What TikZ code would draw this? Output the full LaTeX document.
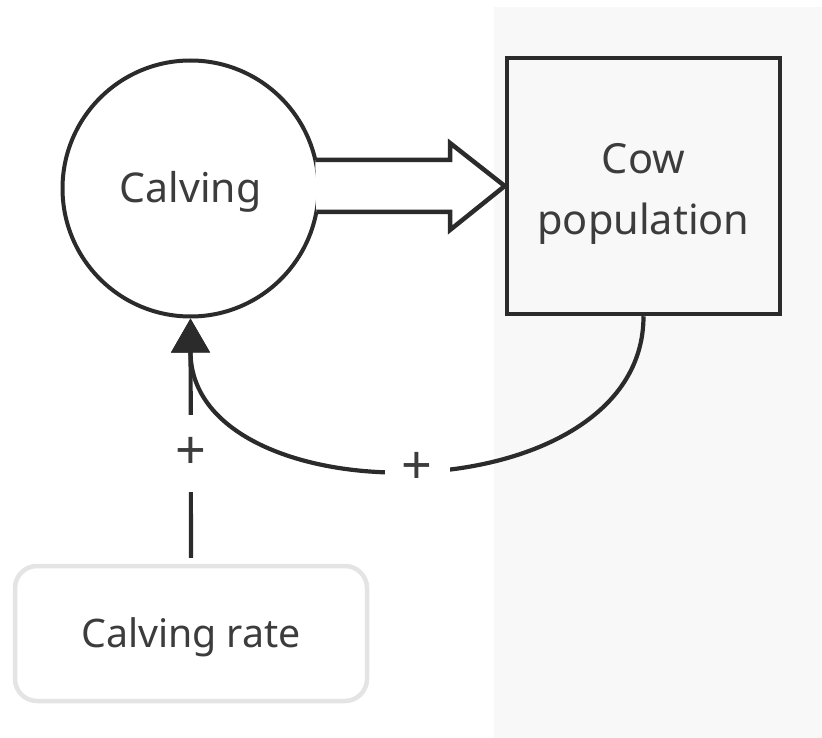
\documentclass[tikz,border=0pt]{standalone}
\usepackage{fontspec}
\setmainfont{Noto Sans}
\usetikzlibrary{arrows.meta,calc}
\definecolor{ink}{HTML}{2B2B2B}
\definecolor{txt}{HTML}{3C3C3C}
\definecolor{panel}{HTML}{F8F8F8}
\definecolor{softedge}{HTML}{E4E4E4}
\tikzset{
  label text/.style={text=txt, text height=28.5pt, text depth=0pt},
  stock/.style={draw=ink, line width=4.5pt, fill=panel, minimum width=273pt,
    minimum height=256pt, inner sep=0pt, align=center, label text,
    font=\fontsize{41.5}{62}\selectfont, text height=98pt},
  flowvalve/.style={circle, draw=ink, line width=4pt, fill=white,
    minimum size=256pt, inner sep=0pt, label text, font=\fontsize{41}{49}\selectfont},
  param/.style={draw=softedge, line width=4.5pt, rounded corners=22pt, fill=white,
    minimum width=352pt, minimum height=135pt, inner sep=0pt, label text,
    font=\fontsize{39.3}{47}\selectfont},
  flowpipe/.style={draw=ink, line width=4.5pt, fill=white, line join=miter},
  link/.style={draw=ink, line width=4.2pt, -{Triangle[width=38pt,length=34pt]}},
  polarity/.style={fill=white, inner sep=0pt, text=txt,
    font=\fontsize{54}{54}\selectfont},
}
\begin{document}
\begin{tikzpicture}[x=1pt, y=-1pt]
  \useasboundingbox (0,0) rectangle (822,738);
  % shaded system region on the right
  \fill[panel] (494,7) rectangle (822,738);

  \node[flowvalve] (calving) at (190.5,188.5) {Calving};
  \node[stock] (cows) at (643.5,186) {Cow\\population};
  \node[param] (rate) at (191,633.5) {Calving rate};

  % hollow flow arrow from the valve into the stock
  \draw[flowpipe] ($(calving.center)+(124.8,-28.5)$) -- (450,160) -- (450,143)
    -- (cows.west) -- (450,230) -- (450,212) -- ($(calving.center)+(125.8,23.5)$);

  % causal links
  \draw[link, shorten <=6pt] (rate.north) -- node[polarity, pos=0.45,
    minimum width=34pt, minimum height=77pt] {+} (calving.south);
  \draw[link] (cows.south) .. controls ($(cows.south)+(0,201)$) and ($(calving.south)+(0,201)$) ..
    node[polarity, pos=0.5, minimum width=65pt, minimum height=34pt] {+} (calving.south);
\end{tikzpicture}
\end{document}
